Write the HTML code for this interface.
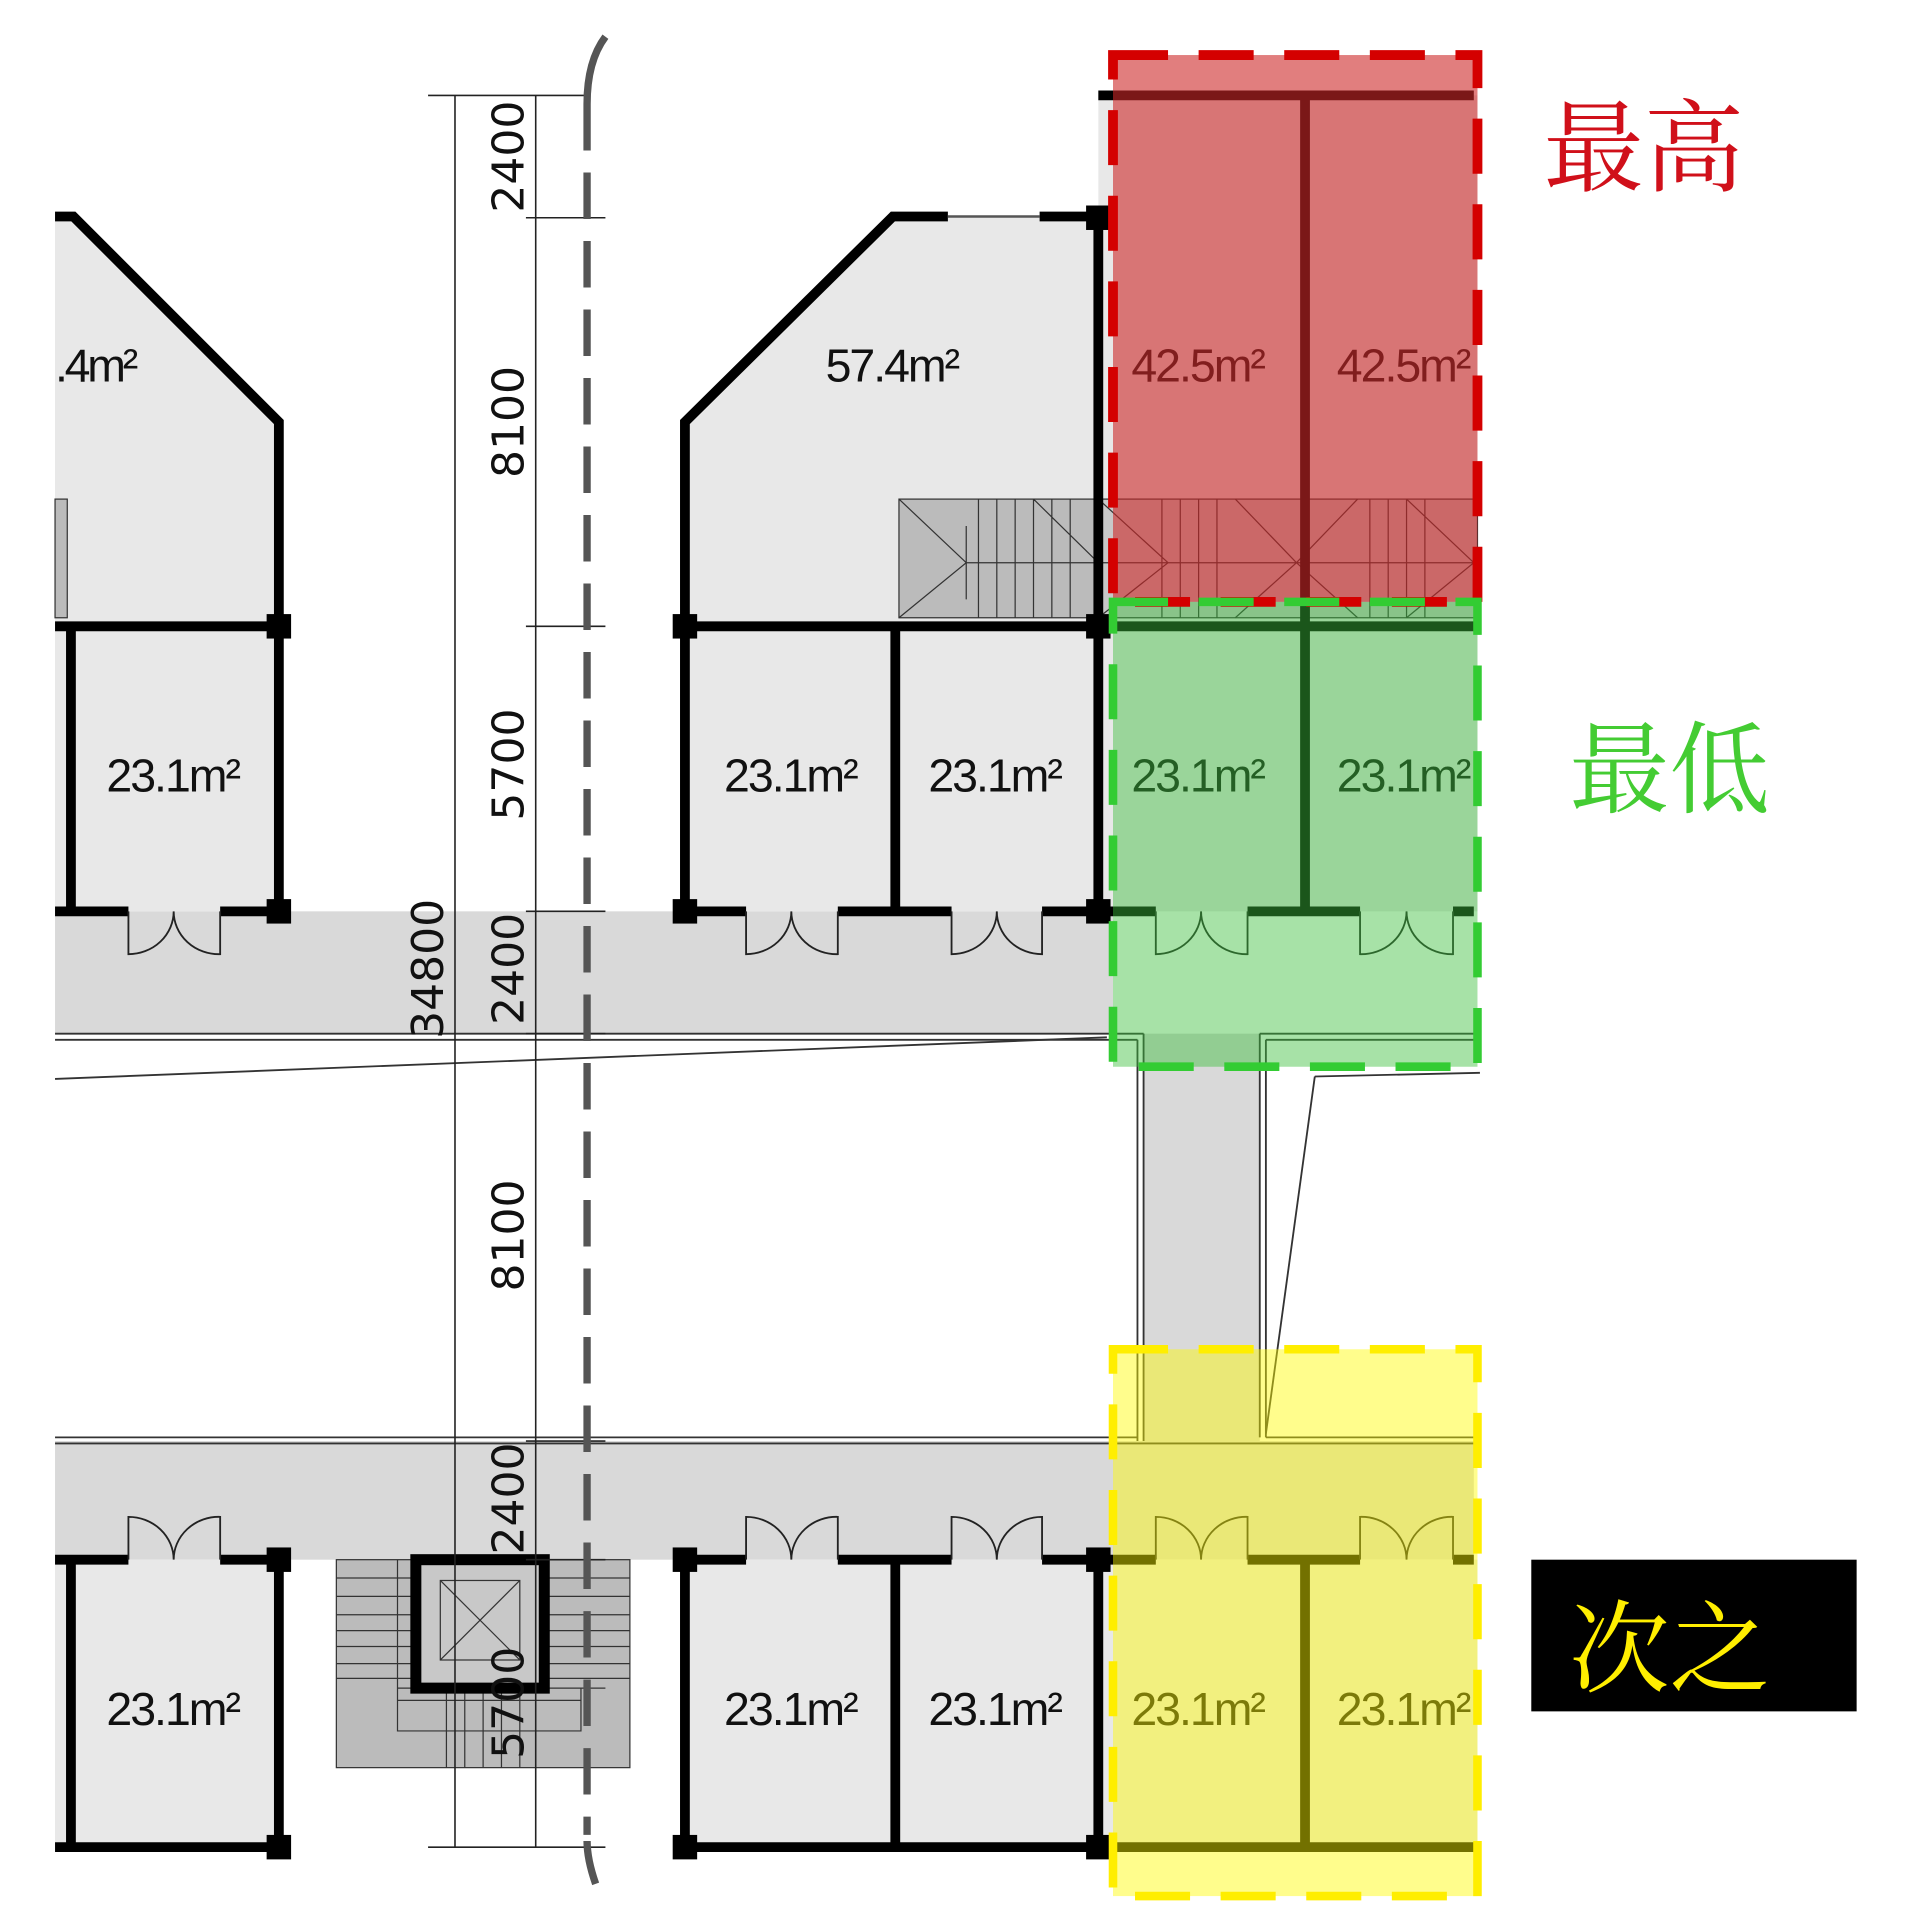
<!DOCTYPE html>
<html><head><meta charset="utf-8"><style>
html,body{margin:0;padding:0;background:#fff;}
svg{display:block;}
.n{font-family:"Liberation Sans",sans-serif;font-size:38px;fill:#111;}
.d{font-family:"DejaVu Sans","Liberation Sans",sans-serif;font-size:36px;fill:#111;}
.cj{font-family:"Noto Serif CJK SC","Liberation Serif",serif;font-size:82px;}
</style></head><body>
<svg width="1908" height="1923" viewBox="0 0 1560 1572" preserveAspectRatio="none" xmlns="http://www.w3.org/2000/svg">
<rect width="1560" height="1572" fill="#fff"/>
<rect x="45" y="745" width="865" height="100" fill="#d9d9d9"/>
<rect x="45" y="1178" width="1160" height="97" fill="#d9d9d9"/>
<rect x="935" y="845" width="95" height="333" fill="#d9d9d9"/>
<g stroke="#333" stroke-width="1.5" fill="none">
<line x1="45" y1="845" x2="935" y2="845"/><line x1="45" y1="850" x2="930" y2="850"/>
<line x1="45" y1="882" x2="905" y2="848"/>
<line x1="935" y1="845" x2="935" y2="1178"/><line x1="930" y1="850" x2="930" y2="1178"/>
<line x1="1030" y1="845" x2="1030" y2="1175"/><line x1="1035" y1="850" x2="1035" y2="1175"/>
<line x1="1030" y1="845" x2="1205" y2="845"/><line x1="1035" y1="850" x2="1205" y2="850"/>
<line x1="1075" y1="880" x2="1035" y2="1172"/><line x1="1075" y1="880" x2="1210" y2="877"/>
<line x1="45" y1="1175" x2="930" y2="1175"/><line x1="1035" y1="1175" x2="1205" y2="1175"/>
<line x1="45" y1="1180" x2="1205" y2="1180"/>
</g>
<g fill="#e8e8e8">
<polygon points="45,177 60,177 228,345 228,745 45,745"/>
<rect x="45" y="1275" width="183" height="235"/>
<polygon points="560,345 730,177 898,177 898,745 560,745"/>
<rect x="560" y="1275" width="338" height="235"/>
<rect x="898" y="78" width="310" height="667"/>
<rect x="898" y="1275" width="310" height="235"/>
</g>
<g stroke="#333" stroke-width="1">
<rect x="735" y="408" width="163" height="97" fill="#bbb"/>
<path d="M735,408 L790,460 L735,505 M790,430 V490 M790,460 H898 M830,408V505 M845,408V505 M860,408V505 M875,408V505 M800,408V505 M815,408V505 M845,408 L898,460" fill="none"/>
<rect x="898" y="408" width="310" height="97" fill="#c8c8c8"/>
<path d="M898,408 L955,460 L898,505 M1010,408 L1060,460 L1010,505 M1060,460 L1110,408 M1060,460 L1110,505 M1150,408 L1205,460 L1150,505 M950,408V505 M965,408V505 M980,408V505 M995,408V505 M1120,408V505 M1135,408V505 M1150,408V505 M1165,408V505 M898,460 H1205" fill="none"/>
<rect x="45" y="408" width="10" height="97" fill="#bbb"/>
<rect x="275" y="1275" width="240" height="170" fill="#bbb"/>
<path d="M275,1290H340 M275,1305H340 M275,1320H340 M275,1333H340 M275,1346H340 M275,1360H340 M275,1372H340 M445,1290H515 M445,1305H515 M445,1320H515 M445,1333H515 M445,1346H515 M445,1360H515 M445,1372H515 M325,1380H495 M325,1390H475 M325,1275V1415H475V1380 M425,1380V1445 M410,1380V1445 M395,1380V1445 M380,1380V1445 M365,1380V1445" fill="none"/>
<rect x="340" y="1275" width="105" height="105" fill="#c8c8c8" stroke="#000" stroke-width="9"/>
<rect x="360" y="1292" width="65" height="65" fill="none"/>
<path d="M360,1292L425,1357M425,1292L360,1357" fill="none"/>
</g>
<g stroke="#000" stroke-width="8" fill="none">
<path d="M45,177 L60,177 L228,345 V745"/>
<path d="M45,512 H228 M58,512 V745 M45,745 H105 M180,745 H228"/>
<path d="M560,745 V345 L730,177 H775 M850,177 H898 V745"/>
<path d="M898,78 H1205 M560,512 H1205 M732,512 V745 M1067,78 V745"/>
<path d="M560,745 H610 M685,745 H778 M852,745 H945 M1020,745 H1112 M1188,745 H1205"/>
<path d="M45,1275 H105 M180,1275 H228 M58,1275 V1510 M228,1275 V1510 M45,1510 H228"/>
<path d="M560,1275 H610 M685,1275 H778 M852,1275 H945 M1020,1275 H1112 M1188,1275 H1205"/>
<path d="M560,1275 V1510 M732,1275 V1510 M898,1275 V1510 M1067,1275 V1510 M560,1510 H1205"/>
</g>
<line x1="775" y1="177" x2="850" y2="177" stroke="#555" stroke-width="2"/>
<g fill="#000">
<rect x="218" y="502" width="20" height="20"/><rect x="218" y="735" width="20" height="20"/>
<rect x="550" y="502" width="20" height="20"/><rect x="550" y="735" width="20" height="20"/>
<rect x="888" y="502" width="20" height="20"/><rect x="888" y="735" width="20" height="20"/><rect x="888" y="168" width="20" height="20"/>
<rect x="218" y="1265" width="20" height="20"/><rect x="218" y="1500" width="20" height="20"/>
<rect x="550" y="1265" width="20" height="20"/><rect x="550" y="1500" width="20" height="20"/>
<rect x="888" y="1265" width="20" height="20"/><rect x="888" y="1500" width="20" height="20"/>
</g>
<g stroke="#222" stroke-width="1.5" fill="none">
<path d="M105,745V780A37,35 0 0 0 142,745A37,35 0 0 0 180,780V745"/>
<path d="M610,745V780A37,35 0 0 0 647,745A37,35 0 0 0 685,780V745"/>
<path d="M778,745V780A37,35 0 0 0 815,745A37,35 0 0 0 852,780V745"/>
<path d="M945,745V780A37,35 0 0 0 982,745A37,35 0 0 0 1020,780V745"/>
<path d="M1112,745V780A37,35 0 0 0 1150,745A37,35 0 0 0 1188,780V745"/>
<path d="M105,1275V1240A37,35 0 0 1 142,1275A37,35 0 0 1 180,1240V1275"/>
<path d="M610,1275V1240A37,35 0 0 1 647,1275A37,35 0 0 1 685,1240V1275"/>
<path d="M778,1275V1240A37,35 0 0 1 815,1275A37,35 0 0 1 852,1240V1275"/>
<path d="M945,1275V1240A37,35 0 0 1 982,1275A37,35 0 0 1 1020,1240V1275"/>
<path d="M1112,1275V1240A37,35 0 0 1 1150,1275A37,35 0 0 1 1188,1240V1275"/>
</g>
<g stroke="#222" stroke-width="1.3">
<line x1="372" y1="78" x2="372" y2="1510"/><line x1="438" y1="78" x2="438" y2="1510"/>
<line x1="350" y1="78" x2="478" y2="78"/><line x1="430" y1="178" x2="495" y2="178"/>
<line x1="430" y1="512" x2="495" y2="512"/><line x1="430" y1="745" x2="495" y2="745"/>
<line x1="430" y1="845" x2="495" y2="845"/><line x1="430" y1="1178" x2="495" y2="1178"/>
<line x1="430" y1="1275" x2="495" y2="1275"/><line x1="350" y1="1510" x2="495" y2="1510"/>
</g>
<g class="d">
<text transform="translate(428,128) rotate(-90)" text-anchor="middle">2400</text>
<text transform="translate(428,345) rotate(-90)" text-anchor="middle">8100</text>
<text transform="translate(428,625) rotate(-90)" text-anchor="middle">5700</text>
<text transform="translate(428,792) rotate(-90)" text-anchor="middle">2400</text>
<text transform="translate(362,792) rotate(-90)" text-anchor="middle">34800</text>
<text transform="translate(428,1010) rotate(-90)" text-anchor="middle">8100</text>
<text transform="translate(428,1225) rotate(-90)" text-anchor="middle">2400</text>
<text transform="translate(428,1392) rotate(-90)" text-anchor="middle">5700</text>
</g>
<path d="M480,85 V1500" stroke="#555" stroke-width="6" fill="none" stroke-dasharray="38,18"/>
<path d="M495,30 Q480,50 480,85" stroke="#555" stroke-width="6" fill="none"/>
<path d="M480,1505 Q480,1520 487,1540" stroke="#555" stroke-width="6" fill="none"/>
<g class="n">
<text x="45" y="312" textLength="68">.4m²</text>
<text x="87" y="647" textLength="110">23.1m²</text>
<text x="675" y="312" textLength="110">57.4m²</text>
<text x="592" y="647" textLength="110">23.1m²</text>
<text x="759" y="647" textLength="110">23.1m²</text>
<text x="925" y="312" textLength="110">42.5m²</text>
<text x="1093" y="312" textLength="110">42.5m²</text>
<text x="925" y="647" textLength="110">23.1m²</text>
<text x="1093" y="647" textLength="110">23.1m²</text>
<text x="87" y="1410" textLength="110">23.1m²</text>
<text x="592" y="1410" textLength="110">23.1m²</text>
<text x="759" y="1410" textLength="110">23.1m²</text>
<text x="925" y="1410" textLength="110">23.1m²</text>
<text x="1093" y="1410" textLength="110">23.1m²</text>
</g>
<rect x="910" y="45" width="298" height="447" fill="rgba(205,40,40,0.6)"/>
<path d="M910,492 H1208 V872 H910 Z" fill="rgba(60,190,60,0.45)"/>
<rect x="910" y="1103" width="298" height="447" fill="rgba(255,250,0,0.45)"/>
<rect x="910" y="45" width="298" height="447" fill="none" stroke="#d40000" stroke-width="8" stroke-dasharray="45,25"/>
<rect x="910" y="492" width="298" height="380" fill="none" stroke="#33cc33" stroke-width="7" stroke-dasharray="45,25"/>
<rect x="910" y="1103" width="298" height="447" fill="none" stroke="#ffee00" stroke-width="7" stroke-dasharray="45,25"/>
<text x="1262" y="150" class="cj" fill="#d0101a">最高</text>
<text x="1283" y="658" class="cj" fill="#44cc33">最低</text>
<rect x="1252" y="1275" width="266" height="124" fill="#000"/>
<text x="1283" y="1377" class="cj" fill="#ffee00">次之</text>
</svg>
</body></html>
